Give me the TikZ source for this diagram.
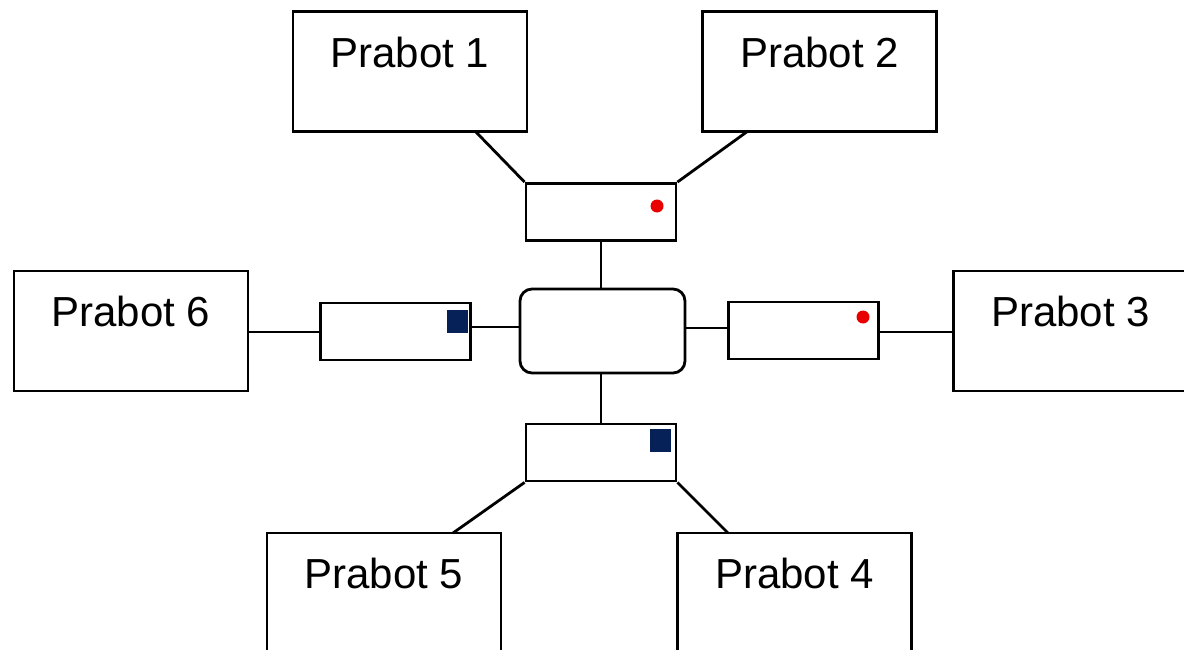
\documentclass[tikz,border=0pt]{standalone}
\usepackage{fontspec}
\setmainfont{Liberation Sans}
\usetikzlibrary{calc}
\definecolor{navybox}{RGB}{6,32,88}
\definecolor{dotred}{RGB}{232,0,0}
\begin{document}
\begin{tikzpicture}[x=1pt,y=-1pt,
  line width=2.8pt,
  prabot/.style={draw, rectangle, minimum width=234pt, minimum height=120pt,
    inner sep=0pt, fill=white,
    label={[anchor=base, yshift=-57pt, font=\fontsize{42}{50}\selectfont]north:#1}},
  port/.style={draw, rectangle, minimum width=150pt, minimum height=57pt, inner sep=0pt, fill=white},
  hub/.style={draw, rectangle, rounded corners=12pt, minimum width=165pt, minimum height=84pt, inner sep=0pt, fill=white},
  reddot/.style={circle, fill=dotred, draw=none, minimum size=13pt, inner sep=0pt},
  navysq/.style={rectangle, fill=navybox, draw=none, minimum width=21pt, minimum height=23pt, inner sep=0pt},
  wire/.style={draw, line width=2.8pt}
]
\useasboundingbox (0,0) rectangle (1184,650);
\clip (0,0) rectangle (1184,650);
\fill[white] (0,0) rectangle (1184,650);

% outer robots
\node[prabot={Prabot 1}] (p1) at (410,71.5) {};
\node[prabot={Prabot 2}] (p2) at (819.5,71.5) {};
\node[prabot={Prabot 6}] (p6) at (131,331) {};
\node[prabot={Prabot 3}] (p3) at (1070.5,331) {};
\node[prabot={Prabot 5}] (p5) at (384,593) {};
\node[prabot={Prabot 4}] (p4) at (794.5,593) {};

% central hub and its four ports
\node[hub] (c) at (602.5,331) {};
\node[port] (t) at (601,212) {};
\node[port] (b) at (601,452.5) {};
\node[port] (l) at (395.5,331.5) {};
\node[port] (r) at (803.5,330.5) {};

% port markers
\node[reddot] (tdot) at (657,206) {};
\node[reddot] (rdot) at (863,317) {};
\node[navysq] (lsq) at (457,321.5) {};
\node[navysq] (bsq) at (660.5,440.5) {};

% connectors
\coordinate (p1a) at (475,131);
\coordinate (p2a) at (748,131);
\coordinate (p5a) at (453,533);
\coordinate (p4a) at (728,533);
\draw[wire] (p1a) -- (t.north west);
\draw[wire] (p2a) -- (t.north east);
\draw[wire] (t.south) -- (t.south |- c.north);
\draw[wire] (b.north) -- (b.north |- c.south);
\draw[wire] (b.south west) -- (p5a);
\draw[wire] (b.south east) -- (p4a);
\draw[wire] ([yshift=-1pt]p6.east) -- ([xshift=3pt,yshift=-0.5pt]l.west);
\draw[wire] ([yshift=4.5pt]l.east) -- ([yshift=4pt]c.west);
\draw[wire] ([yshift=3pt]c.east) -- ([yshift=2.5pt]r.west);
\draw[wire] ([yshift=-1.5pt]r.east) -- ([yshift=-1pt]p3.west);
\end{tikzpicture}
\end{document}
